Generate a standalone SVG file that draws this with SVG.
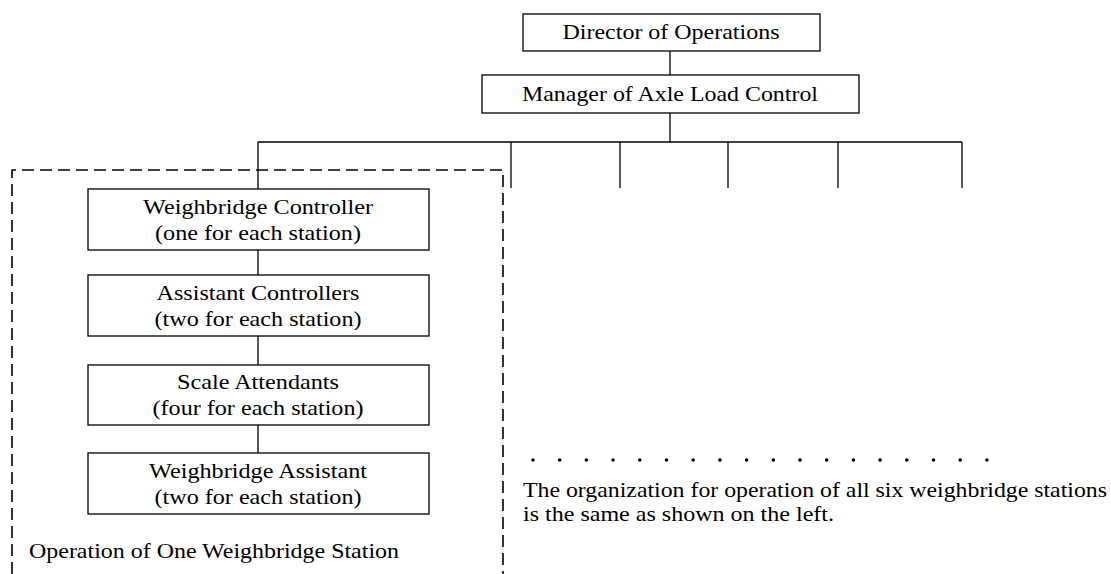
<svg xmlns="http://www.w3.org/2000/svg" width="1111" height="574" viewBox="0 0 1111 574">
<style>
.box{fill:#fff;stroke:#000;stroke-width:1.3}
.ln{stroke:#000;stroke-width:1.3;fill:none}
text{font-family:"Liberation Serif","Times New Roman",serif;font-size:21px;fill:#000}
.c{text-anchor:middle}
</style>
<rect width="1111" height="574" fill="#fff"/>
<g id="connectors">
<line class="ln" x1="670" y1="51" x2="670" y2="75"/>
<line class="ln" x1="670" y1="113" x2="670" y2="142"/>
<line class="ln" x1="258" y1="142" x2="962" y2="142"/>
<line class="ln" x1="258" y1="142" x2="258" y2="189"/>
<line class="ln" x1="511" y1="142" x2="511" y2="188"/>
<line class="ln" x1="620" y1="142" x2="620" y2="188"/>
<line class="ln" x1="728" y1="142" x2="728" y2="188"/>
<line class="ln" x1="838" y1="142" x2="838" y2="188"/>
<line class="ln" x1="962" y1="142" x2="962" y2="188"/>
<line class="ln" x1="258" y1="250" x2="258" y2="275"/>
<line class="ln" x1="258" y1="336" x2="258" y2="365"/>
<line class="ln" x1="258" y1="425" x2="258" y2="453"/>
</g>
<g id="station-frame">
<path d="M12,574 V170 H503 V574" fill="none" stroke="#000" stroke-width="1.6" stroke-dasharray="12,6"/>
<text x="29" y="558" textLength="370" lengthAdjust="spacingAndGlyphs">Operation of One Weighbridge Station</text>
</g>
<g id="director">
<rect class="box" x="523" y="14" width="297" height="37"/>
<text class="c" x="671" y="39" textLength="217" lengthAdjust="spacingAndGlyphs">Director of Operations</text>
</g>
<g id="manager">
<rect class="box" x="482" y="75" width="377" height="38"/>
<text class="c" x="670" y="101" textLength="296" lengthAdjust="spacingAndGlyphs">Manager of Axle Load Control</text>
</g>
<g id="weighbridge-controller">
<rect class="box" x="88" y="189" width="341" height="61"/>
<text class="c" x="258" y="214" textLength="230" lengthAdjust="spacingAndGlyphs">Weighbridge Controller</text>
<text class="c" x="258" y="240" textLength="206" lengthAdjust="spacingAndGlyphs">(one for each station)</text>
</g>
<g id="assistant-controllers">
<rect class="box" x="88" y="275" width="341" height="61"/>
<text class="c" x="258" y="300" textLength="203" lengthAdjust="spacingAndGlyphs">Assistant Controllers</text>
<text class="c" x="258" y="326" textLength="207" lengthAdjust="spacingAndGlyphs">(two for each station)</text>
</g>
<g id="scale-attendants">
<rect class="box" x="88" y="365" width="341" height="60"/>
<text class="c" x="258" y="389" textLength="162" lengthAdjust="spacingAndGlyphs">Scale Attendants</text>
<text class="c" x="258" y="415" textLength="211" lengthAdjust="spacingAndGlyphs">(four for each station)</text>
</g>
<g id="weighbridge-assistant">
<rect class="box" x="88" y="453" width="341" height="61"/>
<text class="c" x="258" y="478" textLength="218" lengthAdjust="spacingAndGlyphs">Weighbridge Assistant</text>
<text class="c" x="258" y="504" textLength="207" lengthAdjust="spacingAndGlyphs">(two for each station)</text>
</g>
<g id="note">
<line x1="533" y1="460" x2="990" y2="460" stroke="#000" stroke-width="3.6" stroke-linecap="round" stroke-dasharray="0,26.7"/>
<text x="523" y="497" textLength="584" lengthAdjust="spacingAndGlyphs">The organization for operation of all six weighbridge stations</text>
<text x="523" y="521" textLength="311" lengthAdjust="spacingAndGlyphs">is the same as shown on the left.</text>
</g>
</svg>
